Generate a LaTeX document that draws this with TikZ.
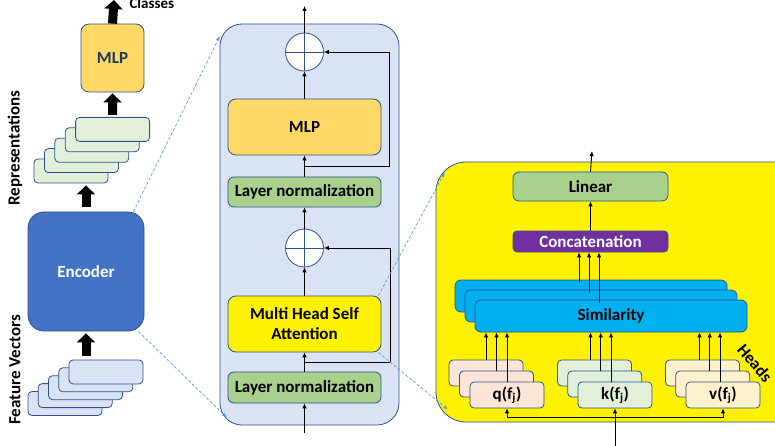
\documentclass[tikz,border=0pt]{standalone}
\usepackage{fontspec}
\setmainfont{Carlito}
\usetikzlibrary{arrows.meta,positioning}

\definecolor{edge}{HTML}{2F528F}
\definecolor{panelblue}{HTML}{DAE3F3}
\definecolor{encblue}{HTML}{4472C4}
\definecolor{mlpfill}{HTML}{FFD966}
\definecolor{normfill}{HTML}{A9D18E}
\definecolor{repfill}{HTML}{E2F0D9}
\definecolor{qfill}{HTML}{FBE5D6}
\definecolor{vfill}{HTML}{FFF2CC}
\definecolor{simfill}{HTML}{00B0F0}
\definecolor{catfill}{HTML}{7030A0}
\definecolor{zoomline}{HTML}{5B9BD5}
\definecolor{navy}{HTML}{203864}

\begin{document}
\begin{tikzpicture}[x=1pt,y=-1pt,
  txt/.style={font=\bfseries\fontsize{17}{20}\selectfont},
  box/.style={draw=edge,line width=0.8pt,rounded corners=6pt,txt,inner sep=0pt,align=center},
  card/.style={box,rounded corners=4pt,minimum width=74pt,minimum height=24pt},
  wide/.style={box,minimum width=153pt},
  add/.style={draw=edge,line width=0.8pt,fill=white,circle,minimum size=38pt,inner sep=0pt},
  arr/.style={-{Latex[length=5pt,width=4.5pt]},line width=0.9pt},
  fat/.style={-{Triangle[length=9pt,width=18pt]},line width=9pt},
  zoom/.style={-{Stealth[length=5pt,width=4pt]},draw=zoomline,line width=0.7pt,dash pattern=on 3pt off 2pt}]
\useasboundingbox (0,0) rectangle (775,446);

% left column: features -> encoder -> representations -> classifier
\foreach \i in {0,...,4}
  \node[card,fill=panelblue] (feat\i) at (65+10.25*\i,403.5-7.9*\i) {};
\node[box,fill=encblue,text=white,rounded corners=16pt,minimum width=116pt,minimum height=119pt] (enc) at (86,271.5) {Encoder};
\foreach \i in {0,...,4}
  \node[card,fill=repfill] (rep\i) at (71+10.4*\i,171-10.4*\i) {};
\node[box,fill=mlpfill,text=navy,rounded corners=8pt,minimum width=63pt,minimum height=68pt] (cls) at (112.5,58) {MLP};
\coordinate (clsout) at (114,0);
\node[txt,font=\bfseries\fontsize{15}{18}\selectfont,anchor=west] (clslbl) at (126,3) {Classes};
\node[txt,rotate=90] (replbl) at (15,148) {Representations};
\node[txt,rotate=90] (featlbl) at (15,370) {Feature Vectors};

\draw[fat] ([yshift=4pt]enc.south |- feat4.north) -- ([yshift=-2pt]enc.south);
\draw[fat] ([yshift=5pt]enc.north) -- ([yshift=-2pt]enc.north |- rep0.south);
\draw[fat] ([yshift=2pt]rep4.north) -- ([yshift=-1pt]cls.south);
\draw[fat] (cls.north) -- (clsout);

% encoder block
\node[box,fill=panelblue,rounded corners=22pt,minimum width=179pt,minimum height=401pt] (blk) at (309.5,224.5) {};
\node[wide,fill=normfill,minimum height=31pt] (ln2) at (304.5,387.5) {Layer normalization};
\node[wide,fill=yellow,rounded corners=8pt,minimum height=56pt] (mhsa) at (304.5,324) {Multi Head Self\\Attention};
\node[add] (add1) at (304.5,248) {};
\node[wide,fill=normfill,minimum height=30pt] (ln1) at (304.5,192) {Layer normalization};
\node[wide,fill=mlpfill,rounded corners=8pt,minimum height=56pt] (mlp) at (304.5,127) {MLP};
\node[add] (add2) at (304.5,52) {};
\foreach \a in {add1,add2}
  \draw[edge,line width=0.8pt] (\a.north) -- (\a.south) (\a.west) -- (\a.east);
\coordinate (blkin) at (304.5,433);
\coordinate (blkout) at (304.5,6);
\coordinate (skip1) at (304.5,362);
\coordinate (skip2) at (304.5,166);

\draw[arr] (blkin) -- (ln2.south);
\draw[arr] (ln2.north) -- (mhsa.south);
\draw[arr] (mhsa.north) -- (add1.south);
\draw[arr] (add1.north) -- (ln1.south);
\draw[arr] (ln1.north) -- (mlp.south);
\draw[arr] (mlp.north) -- (add2.south);
\draw[arr] (add2.north) -- (blkout);
\draw[arr] (skip1) -- ++(85.5,0) |- (add1.east);
\draw[arr] (skip2) -- ++(84.5,0) |- (add2.east);

% attention block
\node[box,fill=yellow,rounded corners=30pt,minimum width=370pt,minimum height=260pt] (att) at (621,292) {};
\node[wide,fill=normfill,minimum width=155pt,minimum height=29pt] (lin) at (590.5,186.5) {Linear};
\node[wide,fill=catfill,text=white,minimum width=155pt,minimum height=21pt,rounded corners=4pt] (cat) at (590.5,241.5) {Concatenation};
\foreach \i in {0,1}
  \node[box,fill=simfill,minimum width=272pt,minimum height=32pt] (sim\i) at (591+10*\i,296+10*\i) {};
\node[box,fill=simfill,minimum width=272pt,minimum height=32pt] (sim2) at (611,316) {Similarity};
\foreach \i in {0,1}{
  \node[card,fill=qfill,minimum height=26pt] (q\i) at (486+10.5*\i,373+11*\i) {};
  \node[card,fill=repfill,minimum height=26pt] (k\i) at (594.5+10.25*\i,373+11*\i) {};
  \node[card,fill=vfill,minimum height=26pt] (v\i) at (702.5+10.25*\i,373+11*\i) {};
}
\node[card,fill=qfill,minimum height=26pt] (q2) at (507,395) {q(f\textsubscript{j})};
\node[card,fill=repfill,minimum height=26pt] (k2) at (615,395) {k(f\textsubscript{j})};
\node[card,fill=vfill,minimum height=26pt] (v2) at (723,395) {v(f\textsubscript{j})};
\node[txt,rotate=-50] (heads) at (755,363) {Heads};
\coordinate (attin) at (615,446);
\coordinate (attout) at (592,151);
\coordinate (hub) at (615,417);

\draw[arr] (attin) -- (k2.south);
\draw[arr] (hub) -| (q2.south);
\draw[arr] (hub) -| (v2.south);
\foreach \i in {0,1,2}{
  \draw[arr] (q\i.north) -- (q\i.north |- sim2.south);
  \draw[arr] ([xshift=-4pt]k\i.north) -- ([xshift=-4pt]k\i.north |- sim2.south);
  \draw[arr] ([xshift=-3pt]v\i.north) -- ([xshift=-3pt]v\i.north |- sim2.south);
  \draw[arr] ([xshift=-12pt,yshift=-3pt]sim\i.north) -- ([xshift=-12pt]sim\i.north |- cat.south);
}
\draw[arr] (cat.north) -- (lin.south);
\draw[arr] (lin.north) -- (attout);

% zoom-in guides
\draw[zoom] ([xshift=-11pt]enc.north east) -- ([yshift=-13pt]blk.north west);
\draw[zoom] ([xshift=-6pt]enc.south east) -- ([shift={(7pt,8pt)}]blk.south west);
\draw[zoom] ([xshift=-3pt]mhsa.north east) -- ([shift={(9pt,-11pt)}]att.north west);
\draw[zoom] ([xshift=-3pt]mhsa.south east) -- ([shift={(12pt,13pt)}]att.south west);
\end{tikzpicture}
\end{document}
